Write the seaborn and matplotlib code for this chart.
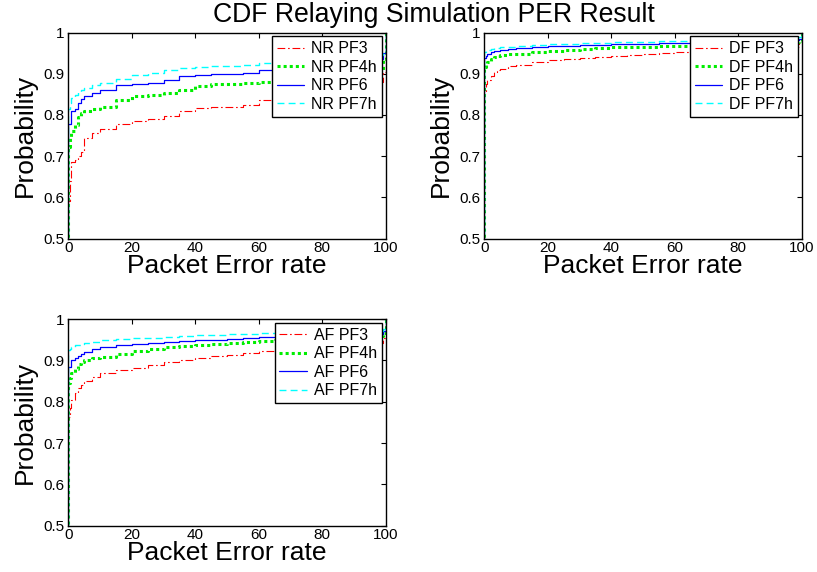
import matplotlib
matplotlib.use("Agg")
import matplotlib.pyplot as plt
import seaborn as sns
import numpy as np

# ---- data ----
per_grid = [0, 0, 0.5, 1, 2, 3, 4, 5, 7.5, 10, 15, 20, 25, 30, 35, 40, 45, 50,
            55, 60, 65, 70, 80, 90, 99, 100]

nr_pf3 = [0, 0.59, 0.64, 0.685, 0.69, 0.70, 0.71, 0.745, 0.755, 0.765, 0.778, 0.786, 0.79,
          0.798, 0.81, 0.817, 0.818, 0.819, 0.824, 0.835, 0.845, 0.852, 0.865, 0.88, 0.905, 1.0]
nr_pf4h = [0, 0.722, 0.745, 0.76, 0.775, 0.795, 0.805, 0.81, 0.815, 0.82, 0.835, 0.845, 0.848,
           0.852, 0.86, 0.87, 0.875, 0.876, 0.877, 0.88, 0.886, 0.89, 0.9, 0.91, 0.935, 1.0]
nr_pf6 = [0, 0.777, 0.777, 0.81, 0.815, 0.83, 0.838, 0.845, 0.852, 0.86, 0.872, 0.876, 0.877,
          0.884, 0.895, 0.898, 0.899, 0.899, 0.902, 0.909, 0.914, 0.918, 0.925, 0.935, 0.95, 1.0]
nr_pf7h = [0, 0.815, 0.83, 0.84, 0.848, 0.855, 0.86, 0.865, 0.872, 0.878, 0.888, 0.898, 0.902,
           0.908, 0.913, 0.917, 0.918, 0.919, 0.922, 0.926, 0.931, 0.934, 0.94, 0.945, 0.955, 1.0]

df_pf3 = [0, 0.855, 0.875, 0.885, 0.895, 0.903, 0.908, 0.912, 0.918, 0.922, 0.928, 0.933, 0.936,
          0.938, 0.941, 0.944, 0.946, 0.948, 0.95, 0.952, 0.954, 0.956, 0.96, 0.965, 0.975, 1.0]
df_pf4h = [0, 0.917, 0.923, 0.928, 0.935, 0.94, 0.942, 0.945, 0.947, 0.949, 0.952, 0.955, 0.957,
           0.96, 0.962, 0.964, 0.965, 0.966, 0.967, 0.968, 0.969, 0.97, 0.973, 0.976, 0.98, 1.0]
df_pf6 = [0, 0.937, 0.942, 0.947, 0.952, 0.954, 0.956, 0.958, 0.96, 0.963, 0.965, 0.967, 0.968,
          0.969, 0.97, 0.971, 0.972, 0.973, 0.974, 0.975, 0.976, 0.977, 0.979, 0.981, 0.985, 1.0]
df_pf7h = [0, 0.952, 0.955, 0.958, 0.96, 0.962, 0.963, 0.964, 0.966, 0.968, 0.97, 0.972, 0.973,
           0.974, 0.975, 0.976, 0.977, 0.978, 0.979, 0.98, 0.981, 0.982, 0.984, 0.986, 0.99, 1.0]

af_pf3 = [0, 0.764, 0.785, 0.804, 0.82, 0.832, 0.84, 0.85, 0.86, 0.869, 0.877, 0.882, 0.888,
          0.895, 0.9, 0.906, 0.91, 0.914, 0.918, 0.922, 0.925, 0.928, 0.935, 0.943, 0.955, 1.0]
af_pf4h = [0, 0.844, 0.858, 0.869, 0.88, 0.89, 0.895, 0.9, 0.905, 0.909, 0.916, 0.922, 0.927,
           0.932, 0.935, 0.937, 0.94, 0.942, 0.944, 0.946, 0.948, 0.95, 0.954, 0.958, 0.965, 1.0]
af_pf6 = [0, 0.885, 0.885, 0.902, 0.905, 0.91, 0.915, 0.92, 0.927, 0.932, 0.936, 0.939, 0.941,
          0.944, 0.946, 0.948, 0.95, 0.952, 0.954, 0.956, 0.957, 0.958, 0.961, 0.964, 0.97, 1.0]
af_pf7h = [0, 0.925, 0.928, 0.932, 0.936, 0.938, 0.94, 0.942, 0.945, 0.948, 0.951, 0.953, 0.955,
           0.957, 0.959, 0.961, 0.962, 0.963, 0.964, 0.965, 0.966, 0.968, 0.97, 0.972, 0.977, 1.0]

scheme_names = ["NR", "DF", "AF"]
pf_names = ["PF3", "PF4h", "PF6", "PF7h"]
panel_series = {
    "NR": [nr_pf3, nr_pf4h, nr_pf6, nr_pf7h],
    "DF": [df_pf3, df_pf4h, df_pf6, df_pf7h],
    "AF": [af_pf3, af_pf4h, af_pf6, af_pf7h],
}
x_ticks = [0, 20, 40, 60, 80, 100]
y_ticks = [0.5, 0.6, 0.7, 0.8, 0.9, 1.0]
y_tick_labels = ["0.5", "0.6", "0.7", "0.8", "0.9", "1"]

# ---- style ----
sns.set_style("white")
plt.rcParams["font.family"] = ["Liberation Sans", "DejaVu Sans"]
plt.rcParams.update({
    "xtick.direction": "in", "ytick.direction": "in",
    "xtick.top": True, "ytick.right": True,
    "xtick.major.size": 3.5, "ytick.major.size": 3.5,
    "xtick.major.width": 0.8, "ytick.major.width": 0.8,
    "xtick.color": "black", "ytick.color": "black",
    "xtick.labelcolor": "black", "ytick.labelcolor": "black",
    "text.color": "black", "axes.labelcolor": "black",
    "axes.edgecolor": "black", "axes.linewidth": 1.0,
})

line_styles = [
    dict(color="#ff0000", dashes=(7, 2.5, 1.5, 2.5), linewidth=0.8),
    dict(color="#00ee00", dashes=(1.0, 1.0), linewidth=2.2),
    dict(color="#0000ff", linestyle="-", linewidth=0.9),
    dict(color="#00ffff", dashes=(5, 3), linewidth=1.0),
]

fig = plt.figure(figsize=(8.17, 5.72), dpi=100)
positions = {
    "NR": [68.3 / 817, 1 - 238.5 / 572, 317.4 / 817, 206 / 572],
    "DF": [484.3 / 817, 1 - 238.5 / 572, 317.4 / 817, 206 / 572],
    "AF": [68.3 / 817, 1 - 525.7 / 572, 317.4 / 817, 206.7 / 572],
}

for scheme in scheme_names:
    ax = fig.add_axes(positions[scheme])
    for pf, yvals, st in zip(pf_names, panel_series[scheme], line_styles):
        sns.lineplot(x=per_grid, y=yvals, ax=ax, estimator=None, sort=False,
                     drawstyle="steps-post", label=f"{scheme} {pf}", **st)
    ax.set_xlim(0, 100)
    ax.set_ylim(0.5, 1.0)
    ax.set_xticks(x_ticks)
    ax.set_xticklabels([str(t) for t in x_ticks], fontsize=11)
    ax.set_yticks(y_ticks)
    ax.set_yticklabels(y_tick_labels, fontsize=11)
    ax.tick_params(axis="x", pad=2)
    ax.tick_params(axis="y", pad=3)
    ax.set_xlabel("Packet Error rate", fontsize=19)
    ax.set_ylabel("Probability", fontsize=19)
    ax.xaxis.set_label_coords(0.5, -0.075)
    ax.yaxis.set_label_coords(-0.10, 0.5)
    for sp in ax.spines.values():
        sp.set_visible(True)
        sp.set_color("black")
    leg = ax.legend(loc="upper right", fontsize=11.5, frameon=True, fancybox=False,
                    framealpha=1, edgecolor="black", borderaxespad=0.25,
                    borderpad=0.3, labelspacing=0.22, handlelength=1.7,
                    handletextpad=0.45)
    leg.get_frame().set_linewidth(1.0)

fig.text(434 / 817, 1 - 15 / 572, "CDF Relaying Simulation PER Result",
         ha="center", va="center", fontsize=19.2)

fig.savefig("out.png", dpi=100)
